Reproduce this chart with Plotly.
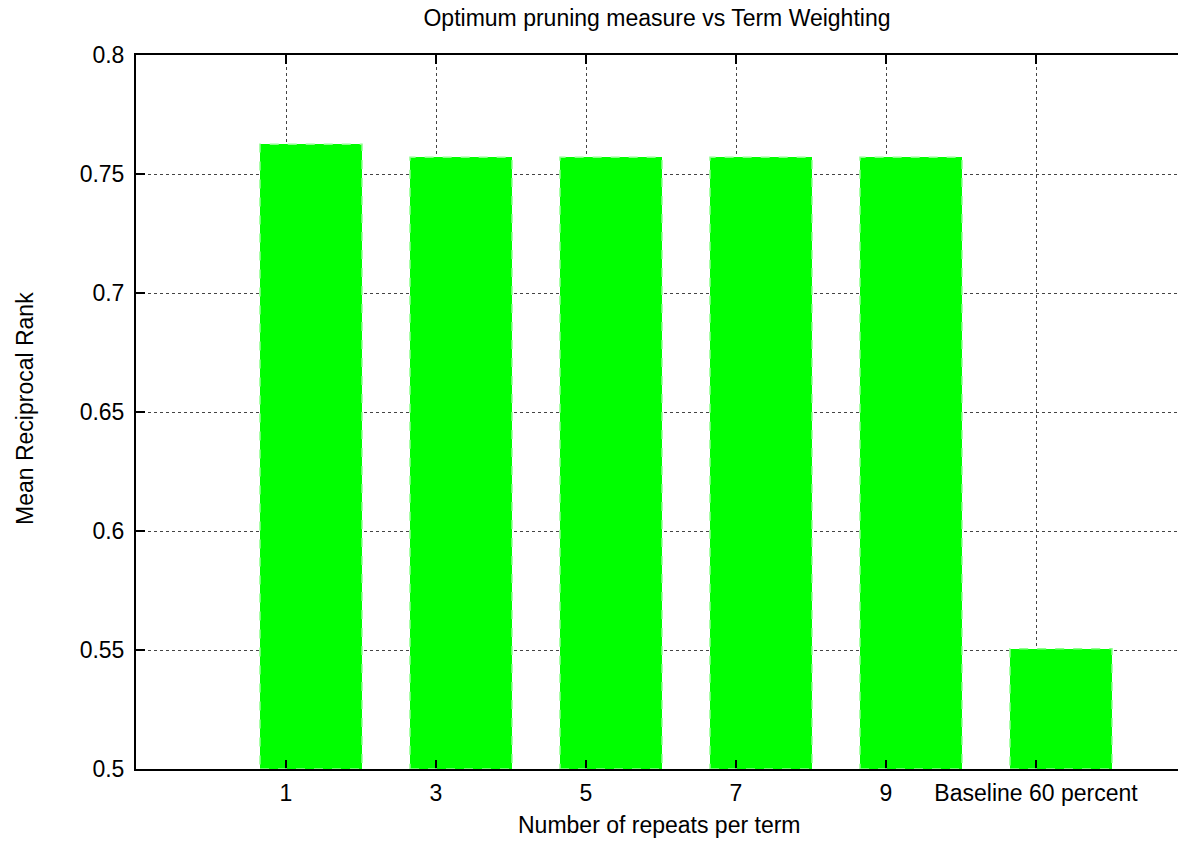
import plotly.graph_objects as go

# Mean reciprocal rank per repeat setting
categories = ["1", "3", "5", "7", "9", "Baseline 60 percent"]
mrr_values = [0.7625, 0.757, 0.757, 0.757, 0.757, 0.5505]
y_ticks = [0.5, 0.55, 0.6, 0.65, 0.7, 0.75, 0.8]
y_tick_labels = ["0.5", "0.55", "0.6", "0.65", "0.7", "0.75", "0.8"]

W, H = 1178, 842
M_L, M_R, M_T, M_B = 136, 0, 55, 73
BAR_WIDTH = 0.68
BAR_SHIFT = 1 / 6          # bars sit slightly right of their tick
FONT = "Liberation Sans, Arial, sans-serif"
FS = 23

positions = list(range(len(categories)))
plot_w = W - M_L - M_R
plot_h = H - M_T - M_B

fig = go.Figure()
fig.add_trace(go.Bar(
    x=positions,
    y=[v - 0.5 for v in mrr_values],
    base=0.5,
    width=BAR_WIDTH,
    offset=-BAR_WIDTH / 2 + BAR_SHIFT,
    marker=dict(color="#00ff00", line=dict(width=0)),
    hoverinfo="skip",
    showlegend=False,
))

# dashed outline around each bar
for x, v in zip(positions, mrr_values):
    fig.add_shape(
        type="rect", xref="x", yref="y",
        x0=x + BAR_SHIFT - BAR_WIDTH / 2, x1=x + BAR_SHIFT + BAR_WIDTH / 2,
        y0=0.5, y1=v,
        line=dict(color="#8cff8c", width=1.5, dash="dash"),
        layer="above",
    )

# axis titles placed as annotations
fig.add_annotation(
    text="Number of repeats per term", showarrow=False,
    xref="paper", yref="paper",
    x=(659 - M_L) / plot_w, y=-(825 - (H - M_B)) / plot_h,
    xanchor="center", yanchor="middle",
    font=dict(size=FS),
)
fig.add_annotation(
    text="Mean Reciprocal Rank", showarrow=False, textangle=-90,
    xref="paper", yref="paper",
    x=-(M_L - 25) / plot_w, y=(H - M_B - 409) / plot_h,
    xanchor="center", yanchor="middle",
    font=dict(size=FS),
)

fig.update_layout(
    width=W, height=H,
    margin=dict(l=M_L, r=M_R, t=M_T, b=M_B),
    paper_bgcolor="white", plot_bgcolor="white",
    font=dict(family=FONT, size=FS, color="black"),
    title=dict(text="Optimum pruning measure vs Term Weighting",
               x=0.5, xref="paper", xanchor="center",
               y=1 - 18 / H, yanchor="middle", yref="container",
               font=dict(size=FS)),
    bargap=0,
)

fig.update_xaxes(
    range=[-1, -1 + plot_w / 150],
    tickvals=positions, ticktext=categories,
    ticks="inside", ticklen=9, tickcolor="black", tickwidth=1.5,
    showline=True, linecolor="black", linewidth=2, mirror="ticks",
    showgrid=True, gridcolor="#444444", griddash="dot", gridwidth=1,
    zeroline=False,
    ticklabelstandoff=2,
    tickfont=dict(size=FS),
)
fig.update_yaxes(
    range=[0.5, 0.8],
    tickvals=y_ticks, ticktext=y_tick_labels,
    ticks="inside", ticklen=9, tickcolor="black", tickwidth=1.5,
    showline=True, linecolor="black", linewidth=2, mirror=False,
    showgrid=True, gridcolor="#444444", griddash="dot", gridwidth=1,
    zeroline=False,
    ticklabelstandoff=5,
    tickfont=dict(size=FS),
)

fig.write_html("out.html")
